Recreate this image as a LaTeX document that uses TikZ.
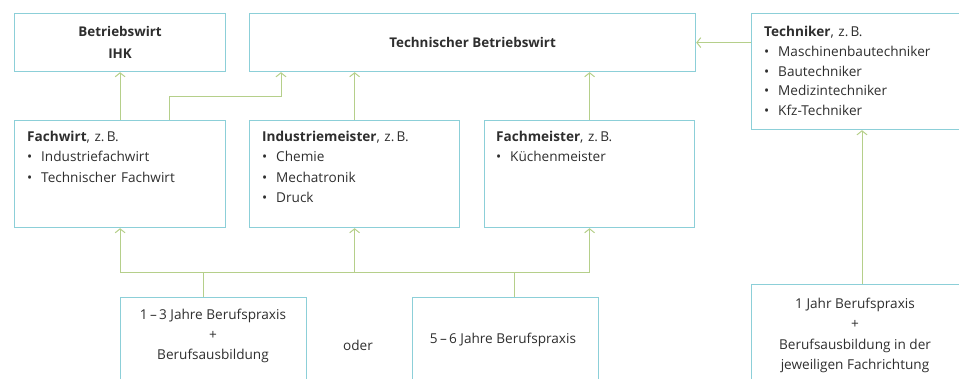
\documentclass[tikz,border=0pt]{standalone}
\usepackage{fontspec}
\setmainfont{Open Sans}
\usetikzlibrary{arrows.meta,calc}
\definecolor{boxc}{HTML}{8CCFD8}
\definecolor{linec}{HTML}{B5CF8A}
\definecolor{txt}{HTML}{2E2E2E}
\newcommand{\bl}[1]{\leavevmode\makebox[14pt][l]{\textbullet}#1}
\begin{document}
\begin{tikzpicture}[x=1pt,y=-1pt,
  box/.style={draw=boxc,line width=1.2pt,inner sep=0pt,anchor=north west},
  lbl/.style={text=txt,inner sep=0pt,font=\fontsize{13.6}{20.3}\selectfont},
  arr/.style={draw=linec,line width=1pt,-{Straight Barb[length=4pt,width=10pt]}},
  ln/.style={draw=linec,line width=1pt}]
\useasboundingbox (0,0) rectangle (959,379);
\clip (0,0) rectangle (959,379);
% boxes
\node[box,minimum width=211pt,minimum height=58pt] (bw) at (14,13) {};
\node[box,minimum width=446pt,minimum height=58pt] (tb) at (249,13) {};
\node[box,minimum width=210pt,minimum height=116pt] (te) at (751,13) {};
\node[box,minimum width=211pt,minimum height=107pt] (fw) at (14,120) {};
\node[box,minimum width=210pt,minimum height=107pt] (im) at (249,120) {};
\node[box,minimum width=210pt,minimum height=107pt] (fm) at (484,120) {};
\node[box,minimum width=186pt,minimum height=100pt] (ba) at (120,297) {};
\node[box,minimum width=186pt,minimum height=100pt] (bb) at (412,297) {};
\node[box,minimum width=210pt,minimum height=110pt] (bc) at (751,284) {};
% texts
\node[lbl,align=center,font=\fontsize{13.4}{21.5}\selectfont\bfseries] (tbw) at (bw.center) {Betriebswirt\\IHK};
\node[lbl,font=\fontsize{13.4}{20}\selectfont\bfseries] (ttb) at (tb.center) {Technischer Betriebswirt};
\node[lbl,anchor=base west,text width=190pt,align=left] (tfw) at (27,141.5)
  {\textbf{Fachwirt}, z.\,B.\\\bl{Industriefachwirt}\\\bl{Technischer Fachwirt}};
\node[lbl,anchor=base west,text width=190pt,align=left] (tim) at (262,141.5)
  {\textbf{Industriemeister}, z.\,B.\\\bl{Chemie}\\\bl{Mechatronik}\\\bl{Druck}};
\node[lbl,anchor=base west,text width=190pt,align=left] (tfm) at (496,141.5)
  {\textbf{Fachmeister}, z.\,B.\\\bl{Küchenmeister}};
\node[lbl,anchor=base west,text width=190pt,align=left,font=\fontsize{13.6}{19.8}\selectfont] (tte) at (764,36.5)
  {\textbf{Techniker}, z.\,B.\\\bl{Maschinenbautechniker}\\\bl{Bautechniker}\\\bl{Medizintechniker}\\\bl{Kfz-Techniker}};
\node[lbl,align=center] (tba) at (213,336) {1\,–\,3 Jahre Berufspraxis\\+\\Berufsausbildung};
\node[lbl] (tbb) at (503,340) {5\,–\,6 Jahre Berufspraxis};
\node[lbl,align=center] (tbc) at (855,335.5) {1 Jahr Berufspraxis\\+\\Berufsausbildung in der\\jeweiligen Fachrichtung};
\node[lbl] (oder) at (358,345) {oder};
% connectors
\coordinate (k1) at (169,97);
\coordinate (k2) at (281,0);
\coordinate (bus) at (0,273);
\coordinate (xa) at (203,0);
\coordinate (xb) at (514,0);
\coordinate (xc) at (862,0);
\draw[arr] (fw.north) -- (fw.north |- bw.south);
\draw[arr] (k1 |- fw.north) -- (k1) -| (k2 |- tb.south);
\draw[arr] (im.north) -- (im.north |- tb.south);
\draw[arr] (fm.north) -- (fm.north |- tb.south);
\draw[arr] (te.west |- tb.east) -- (tb.east);
\draw[ln] (fw.south |- bus) -- (fm.south |- bus);
\draw[arr] (fw.south |- bus) -- (fw.south);
\draw[arr] (im.south |- bus) -- (im.south);
\draw[arr] (fm.south |- bus) -- (fm.south);
\draw[ln] (xa |- ba.north) -- (xa |- bus);
\draw[ln] (xb |- bb.north) -- (xb |- bus);
\draw[arr] (xc |- bc.north) -- (xc |- te.south);
\end{tikzpicture}
\end{document}
